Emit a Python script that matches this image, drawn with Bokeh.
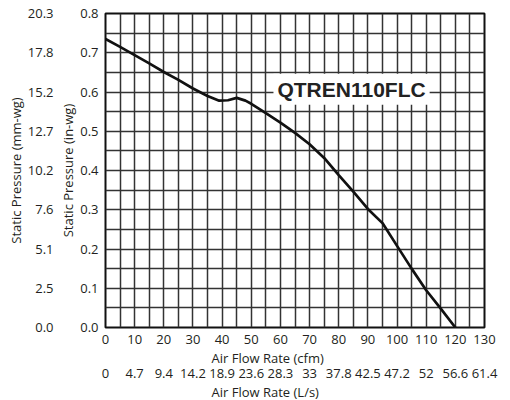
from bokeh.plotting import figure
from bokeh.models import LinearAxis, FixedTicker, CustomJSTickFormatter, Title, Label
from bokeh.embed import file_html
from bokeh.resources import INLINE

# ---- data ----
cfm = [0, 5, 10, 15, 20, 25, 30, 35, 39, 42, 45, 48, 50, 55, 60, 65, 70, 75,
       80, 85, 90, 95, 100, 105, 110, 115, 120]
pressure_inwg = [0.735, 0.715, 0.694, 0.673, 0.651, 0.631, 0.609, 0.590, 0.578,
                 0.579, 0.585, 0.578, 0.570, 0.546, 0.522, 0.496, 0.467, 0.432,
                 0.388, 0.346, 0.302, 0.266, 0.208, 0.150, 0.095, 0.048, 0.0]

cfm_ticks = [0, 10, 20, 30, 40, 50, 60, 70, 80, 90, 100, 110, 120, 130]
cfm_labels = ["0", "10", "20", "30", "40", "50", "60", "70", "80", "90",
              "100", "110", "120", "130"]
ls_labels = ["0", "4.7", "9.4", "14.2", "18.9", "23.6", "28.3", "33", "37.8",
             "42.5", "47.2", "52", "56.6", "61.4"]
inwg_ticks = [0.0, 0.1, 0.2, 0.3, 0.4, 0.5, 0.6, 0.7, 0.8]
inwg_labels = ["0.0", "0.1", "0.2", "0.3", "0.4", "0.5", "0.6", "0.7", "0.8"]
mm_labels = ["0.0", "2.5", "5.1", "7.6", "10.2", "12.7", "15.2", "17.8", "20.3"]

model_name = "QTREN110FLC"

FONT = "Open Sans"
TICK_SIZE = "13px"
TXT = "#231f20"

p = figure(width=510, height=400, x_range=(0, 130), y_range=(0, 0.8),
           output_backend="svg", toolbar_location=None,
           x_axis_location=None, y_axis_location=None,
           min_border_left=105, min_border_right=26, min_border_top=13,
           min_border_bottom=73)
p.background_fill_color = "white"
p.border_fill_color = "white"
p.outline_line_color = "#111111"
p.outline_line_width = 2

# grid (every 5 cfm / 0.05 in-wg)
p.xgrid.ticker = FixedTicker(ticks=[i * 5 for i in range(27)])
p.ygrid.ticker = FixedTicker(ticks=[i * 0.05 for i in range(17)])
for g in (p.xgrid, p.ygrid):
    g.grid_line_color = "#333333"
    g.grid_line_width = 1.5
    g.grid_line_alpha = 1.0


def fmt(ticks, labels):
    return CustomJSTickFormatter(args=dict(vals=ticks, labels=labels), code="""
        const i = vals.findIndex(v => Math.abs(v - tick) < 1e-9);
        return i >= 0 ? labels[i] : "";
    """)


def style_axis(ax):
    ax.axis_line_color = None
    ax.major_tick_line_color = None
    ax.minor_tick_line_color = None
    ax.major_tick_out = 0
    ax.major_tick_in = 0
    ax.minor_tick_out = 0
    ax.minor_tick_in = 0
    ax.major_label_text_font = FONT
    ax.major_label_text_font_size = TICK_SIZE
    ax.major_label_text_color = TXT
    ax.axis_label_text_font = FONT
    ax.axis_label_text_font_size = TICK_SIZE
    ax.axis_label_text_font_style = "normal"
    ax.axis_label_text_color = TXT


# left axes (inner: in-wg, outer: mm-wg)
ax_in = LinearAxis(ticker=FixedTicker(ticks=inwg_ticks),
                   formatter=fmt(inwg_ticks, inwg_labels),
                   axis_label="Static Pressure (in-wg)")
style_axis(ax_in)
ax_in.major_label_standoff = 7
ax_in.axis_label_standoff = 0
p.add_layout(ax_in, "left")

ax_mm = LinearAxis(ticker=FixedTicker(ticks=inwg_ticks),
                   formatter=fmt(inwg_ticks, mm_labels),
                   axis_label="Static Pressure (mm-wg)")
style_axis(ax_mm)
ax_mm.major_label_standoff = 3
ax_mm.axis_label_standoff = 0
p.add_layout(ax_mm, "left")


def axis_title(text):
    return Title(text=text, align="left", offset=106, standoff=0,
                 text_font=FONT, text_font_size=TICK_SIZE,
                 text_font_style="normal", text_color=TXT)


# bottom axes (inner: cfm, outer: L/s) with their titles
ax_cfm = LinearAxis(ticker=FixedTicker(ticks=cfm_ticks),
                    formatter=fmt(cfm_ticks, cfm_labels))
style_axis(ax_cfm)
ax_cfm.major_label_standoff = 7
p.add_layout(ax_cfm, "below")
p.add_layout(axis_title("Air Flow Rate (cfm)"), "below")

ax_ls = LinearAxis(ticker=FixedTicker(ticks=cfm_ticks),
                   formatter=fmt(cfm_ticks, ls_labels))
style_axis(ax_ls)
ax_ls.major_label_standoff = 2
p.add_layout(ax_ls, "below")
p.add_layout(axis_title("Air Flow Rate (L/s)"), "below")

# curve
p.line(cfm, pressure_inwg, line_color="#111111", line_width=2.7,
       line_join="round", line_cap="round")

# model label
p.add_layout(Label(x=84.4, y=0.607, text=model_name,
                   text_font="Liberation Sans", text_font_style="bold",
                   text_font_size="21px", text_color="#222222",
                   text_align="center", text_baseline="middle",
                   background_fill_color="white", padding=4))

open("out.html", "w").write(file_html(p, INLINE))
